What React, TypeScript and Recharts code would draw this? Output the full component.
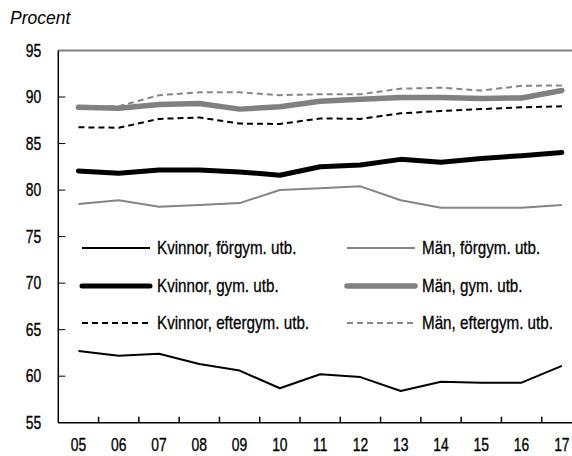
import { LineChart, Line, XAxis, YAxis, ReferenceLine, Legend } from "recharts";

const FONT = "'Liberation Sans', Arial, sans-serif";
const TICK_SCALE = 0.73;
const LEGEND_SCALE = 0.8;
const X_MARGIN = 22;
const Y_MARGIN = 17;

const YEARS = [5, 6, 7, 8, 9, 10, 11, 12, 13, 14, 15, 16, 17];
const Y_TICKS = [55, 60, 65, 70, 75, 80, 85, 90, 95];
const Y_MARKS = [60, 65, 70, 75, 80, 85, 90];
const X_MARKS = [5.5, 6.5, 7.5, 8.5, 9.5, 10.5, 11.5, 12.5, 13.5, 14.5, 15.5, 16.5];

const KVINNOR_FORGYM = [62.7, 62.2, 62.4, 61.3, 60.6, 58.7, 60.2, 59.9, 58.4, 59.4, 59.3, 59.3, 61.1];
const MAN_FORGYM = [78.5, 78.9, 78.2, 78.4, 78.6, 80.0, 80.2, 80.4, 78.9, 78.1, 78.1, 78.1, 78.4];
const KVINNOR_GYM = [82.05, 81.8, 82.15, 82.15, 81.95, 81.6, 82.5, 82.7, 83.3, 83.0, 83.4, 83.7, 84.05];
const MAN_GYM = [88.9, 88.8, 89.2, 89.3, 88.7, 88.95, 89.55, 89.75, 89.95, 89.95, 89.85, 89.9, 90.7];
const KVINNOR_EFTERGYM = [86.75, 86.7, 87.65, 87.8, 87.15, 87.1, 87.7, 87.65, 88.25, 88.5, 88.7, 88.9, 89.0];
const MAN_EFTERGYM = [89.0, 89.0, 90.2, 90.5, 90.5, 90.2, 90.3, 90.3, 90.9, 91.0, 90.7, 91.2, 91.25];

const SERIES = [
  { key: "kf", name: "Kvinnor, förgym. utb.", values: KVINNOR_FORGYM, color: "#000000", width: 2, dash: undefined },
  { key: "mf", name: "Män, förgym. utb.", values: MAN_FORGYM, color: "#858585", width: 2, dash: undefined },
  { key: "kg", name: "Kvinnor, gym. utb.", values: KVINNOR_GYM, color: "#000000", width: 5, dash: undefined },
  { key: "mg", name: "Män, gym. utb.", values: MAN_GYM, color: "#808080", width: 5.5, dash: undefined },
  { key: "ke", name: "Kvinnor, eftergym. utb.", values: KVINNOR_EFTERGYM, color: "#000000", width: 2, dash: "6 4" },
  { key: "me", name: "Män, eftergym. utb.", values: MAN_EFTERGYM, color: "#858585", width: 2, dash: "6 4" },
];

const data = YEARS.map((year, i) => {
  const row: Record<string, number> = { year };
  SERIES.forEach((s) => {
    row[s.key] = s.values[i];
  });
  return row;
});

const X_ALL = [...YEARS, ...X_MARKS].sort((a, b) => a - b);

function narrowText(x: number, y: number, label: string, anchor: string) {
  return (
    <text
      transform={`translate(${x},${y}) scale(${TICK_SCALE},1)`}
      textAnchor={anchor}
      dominantBaseline="central"
      fontSize={19}
      fontFamily={FONT}
      fill="#000"
      stroke="#000"
      strokeWidth={0.35}
    >
      {label}
    </text>
  );
}

// year labels under the axis, small inward marks between years
function XTick(props: any) {
  const { x, y, payload } = props;
  const v = payload.value as number;
  if (YEARS.includes(v)) return narrowText(x, y, String(v).padStart(2, "0"), "middle");
  const axisY = y - X_MARGIN;
  return <line x1={x} x2={x} y1={axisY} y2={axisY - 6} stroke="#000" strokeWidth={1.5} />;
}

function YTick(props: any) {
  const { x, y, payload } = props;
  const v = payload.value as number;
  const axisX = x + Y_MARGIN;
  return (
    <g>
      {narrowText(x, y, String(v), "end")}
      {Y_MARKS.includes(v) && <line x1={axisX} x2={axisX + 7} y1={y} y2={y} stroke="#000" strokeWidth={1} />}
    </g>
  );
}

function LegendGrid() {
  return (
    <div
      style={{
        display: "grid",
        gridTemplateColumns: "265px 200px",
        gridAutoRows: "37.5px",
        alignItems: "center",
        fontFamily: FONT,
        fontSize: 19,
        color: "#000",
        WebkitTextStroke: "0.3px #000",
      }}
    >
      {SERIES.map((s) => (
        <div key={s.key} style={{ display: "flex", alignItems: "center", whiteSpace: "nowrap" }}>
          <svg width={76} height={10} style={{ flex: "none" }}>
            <line
              x1={4}
              x2={72}
              y1={5}
              y2={5}
              stroke={s.color}
              strokeWidth={s.width}
              strokeDasharray={s.dash}
              strokeLinecap={s.width > 3 ? "round" : "butt"}
            />
          </svg>
          <span
            style={{
              display: "inline-block",
              marginLeft: 3,
              transform: `scaleX(${LEGEND_SCALE})`,
              transformOrigin: "left center",
            }}
          >
            {s.name}
          </span>
        </div>
      ))}
    </div>
  );
}

export default function App() {
  return (
    <div style={{ position: "fixed", left: 0, top: 0, width: 572, height: 456, overflow: "hidden", background: "#fff" }}>
      <div
        style={{
          position: "absolute",
          left: 10,
          top: 8,
          fontFamily: FONT,
          fontStyle: "italic",
          fontSize: 17.5,
        }}
      >
        Procent
      </div>
      <LineChart
        width={582}
        height={456}
        data={data}
        margin={{ top: 50.5, right: 0, bottom: 0, left: 0 }}
        style={{ fontFamily: FONT }}
      >
        <XAxis
          dataKey="year"
          type="number"
          domain={[4.5, 17.5]}
          ticks={X_ALL}
          interval={0}
          tick={<XTick />}
          tickLine={false}
          tickSize={0}
          tickMargin={X_MARGIN}
          axisLine={{ stroke: "#000", strokeWidth: 1.5 }}
          height={33.3}
        />
        <YAxis
          type="number"
          domain={[55, 95]}
          ticks={Y_TICKS}
          interval={0}
          tick={<YTick />}
          tickLine={false}
          tickSize={0}
          tickMargin={Y_MARGIN}
          axisLine={{ stroke: "#000", strokeWidth: 1.5 }}
          width={58.3}
        />
        <ReferenceLine y={95} stroke="#808080" strokeWidth={2} />
        <Legend
          verticalAlign="middle"
          align="center"
          layout="horizontal"
          content={() => <LegendGrid />}
          wrapperStyle={{ left: 78, top: 229.5, width: 480 }}
        />
        {SERIES.map((s) => (
          <Line
            key={s.key}
            dataKey={s.key}
            name={s.name}
            type="linear"
            stroke={s.color}
            strokeWidth={s.width}
            strokeDasharray={s.dash}
            strokeLinecap={s.width > 3 ? "round" : "butt"}
            strokeLinejoin="round"
            dot={false}
            activeDot={false}
            isAnimationActive={false}
          />
        ))}
      </LineChart>
    </div>
  );
}
